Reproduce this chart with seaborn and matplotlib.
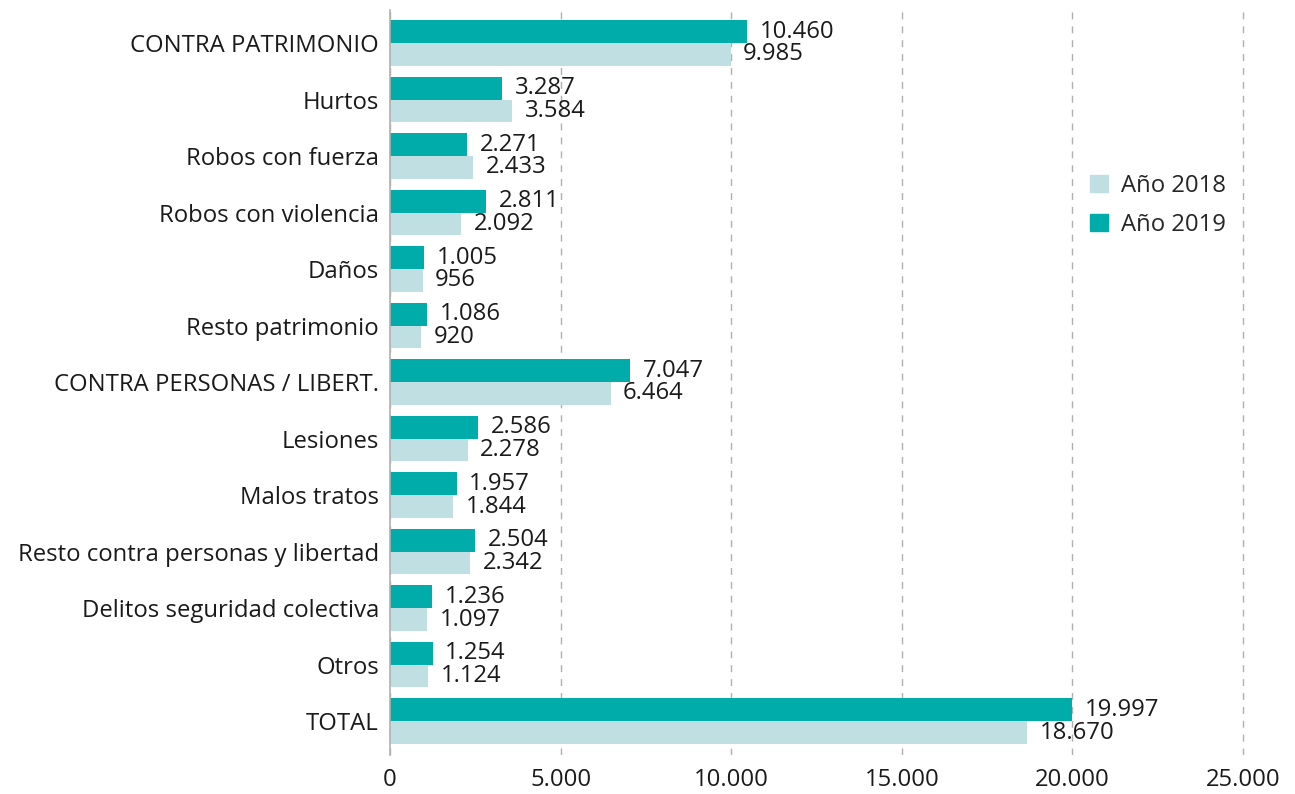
import matplotlib
matplotlib.use("Agg")
import matplotlib.pyplot as plt
import seaborn as sns
import pandas as pd
from matplotlib.patches import Patch

categories = ["CONTRA PATRIMONIO", "Hurtos", "Robos con fuerza", "Robos con violencia",
              "Daños", "Resto patrimonio", "CONTRA PERSONAS / LIBERT.", "Lesiones",
              "Malos tratos", "Resto contra personas y libertad",
              "Delitos seguridad colectiva", "Otros", "TOTAL"]
values_2019 = [10460, 3287, 2271, 2811, 1005, 1086, 7047, 2586, 1957, 2504, 1236, 1254, 19997]
values_2018 = [9985, 3584, 2433, 2092, 956, 920, 6464, 2278, 1844, 2342, 1097, 1124, 18670]
series = ["Año 2019", "Año 2018"]
xticks = [0, 5000, 10000, 15000, 20000, 25000]

sns.set_theme(style="white")
plt.rcParams['font.family'] = ['Open Sans', 'DejaVu Sans']

df = pd.DataFrame({
    "cat": categories * 2,
    "val": values_2019 + values_2018,
    "serie": [series[0]] * len(categories) + [series[1]] * len(categories),
})

c2019 = "#00ACA9"
c2018 = "#C0DFE3"
FS = 17.2
TXT = "#1a1a1a"

fig = plt.figure(figsize=(12.95, 7.94), dpi=100)
top_px, bot_px = 10, 755
left_px, right_px = 390, 1250
ax = fig.add_axes([left_px/1295, 1-bot_px/794, (right_px-left_px)/1295, (bot_px-top_px)/794])
sns.barplot(data=df, y="cat", x="val", hue="serie", order=categories,
            hue_order=series, palette={series[0]: c2019, series[1]: c2018},
            orient="h", width=0.81, ax=ax, legend=False, saturation=1,
            linewidth=0, edgecolor="none")

def fmt(v):
    return f"{v:,}".replace(",", ".")

for cont in ax.containers:
    ax.bar_label(cont, labels=[fmt(int(b.get_width())) for b in cont],
                 padding=9, fontsize=FS, color=TXT)

ax.set_xlim(0, 25000 * (right_px - left_px) / 853)
ax.set_ylim(12.60, -0.584)
ax.set_xticks(xticks)
ax.set_xticklabels([fmt(t) for t in xticks], fontsize=FS, color=TXT)
ax.tick_params(axis="y", labelsize=FS, colors=TXT, length=0, pad=8)
ax.tick_params(axis="x", length=0, pad=9)
ax.set_xlabel("")
ax.set_ylabel("")
ax.xaxis.grid(True, linestyle=(0, (5, 5)), color="#b0b0b0", linewidth=1)
ax.yaxis.grid(False)
for s in ["top", "right", "bottom"]:
    ax.spines[s].set_visible(False)
ax.spines["left"].set_color("#b0b0b0")
ax.spines["left"].set_linewidth(1.2)
ax.set_axisbelow(True)

handles = [Patch(color=c2018, label="Año 2018"), Patch(color=c2019, label="Año 2019")]
leg_ax_x = (1090 - left_px) / (right_px - left_px)
leg_ax_y = 1 - (174 - top_px) / (bot_px - top_px)
ax.legend(handles=handles, loc="upper left",
          bbox_to_anchor=(leg_ax_x, leg_ax_y),
          frameon=False, fontsize=FS, handlelength=0.75, handleheight=0.75,
          handletextpad=0.55, labelspacing=0.62, borderpad=0, borderaxespad=0)

fig.savefig("out.png", dpi=100)
